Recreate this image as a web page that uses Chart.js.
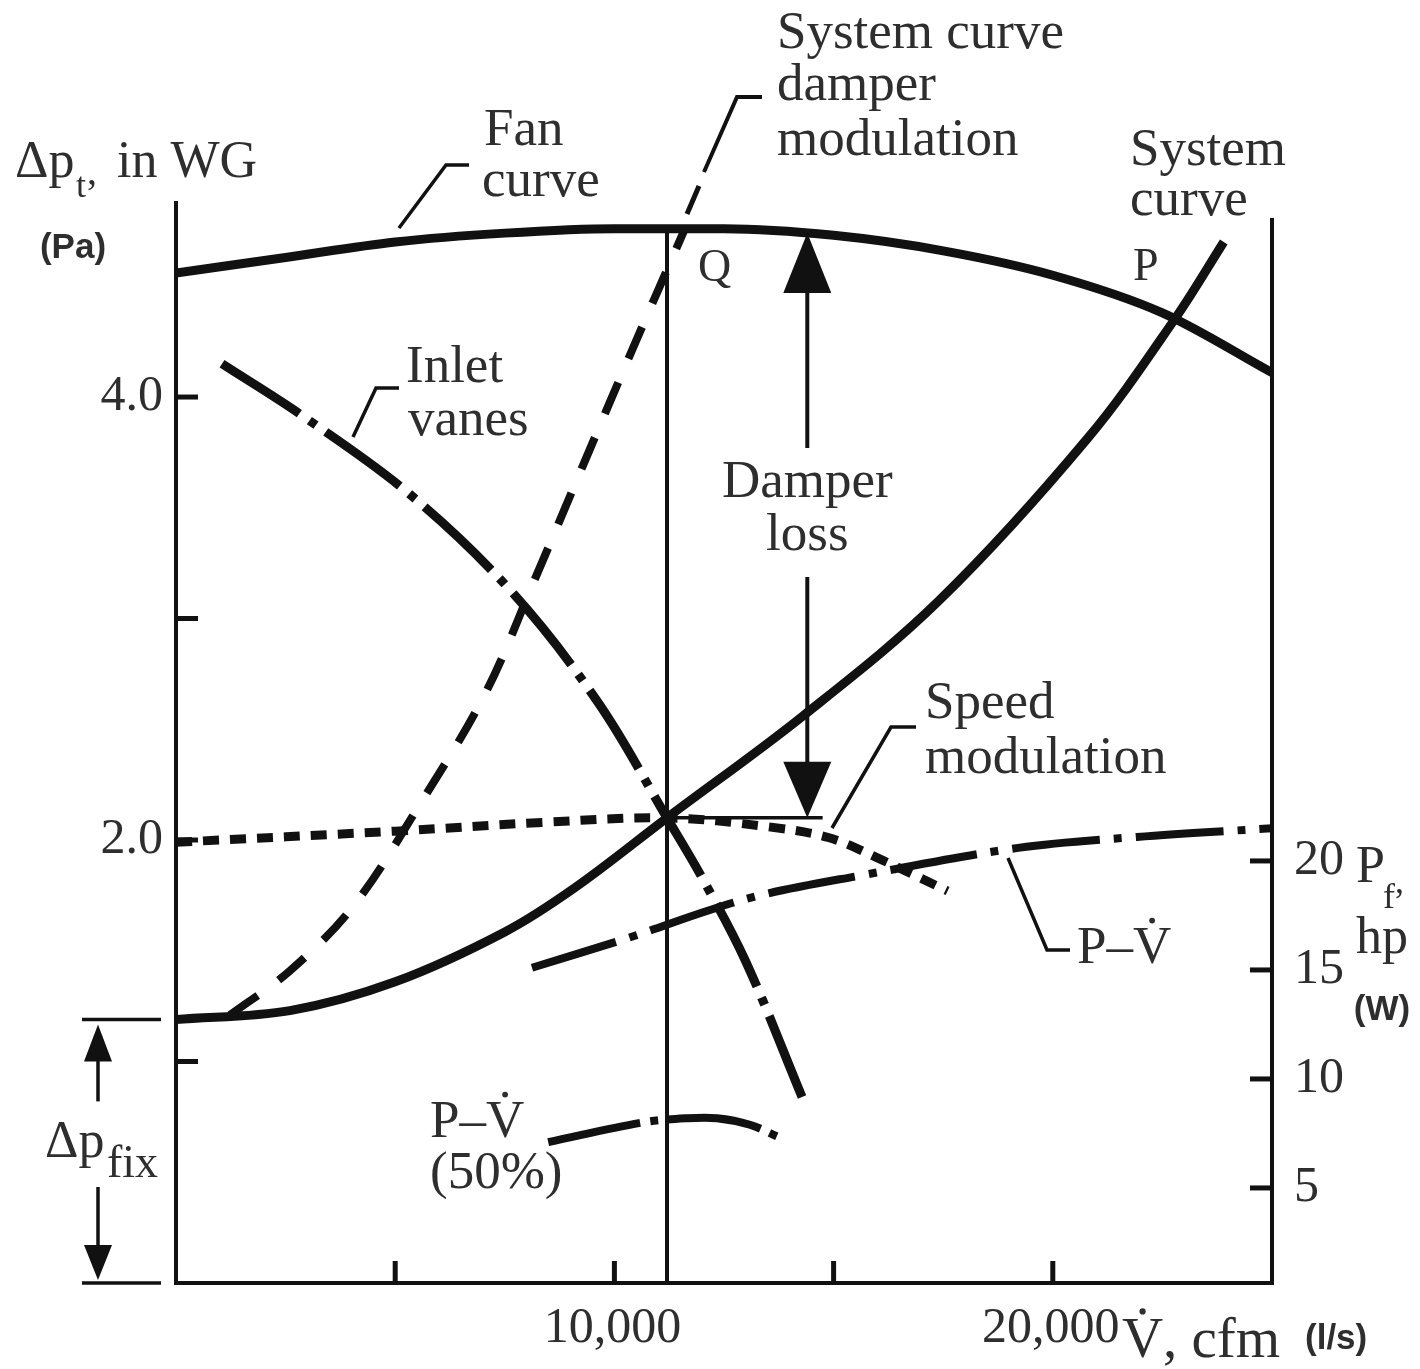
<!DOCTYPE html>
<html>
<head>
<meta charset="utf-8">
<script src="https://cdn.jsdelivr.net/npm/chart.js@4.4.0/dist/chart.umd.min.js"></script>
<style>
  html, body { margin: 0; padding: 0; background: #fff; }
</style>
</head>
<body>
<canvas id="fanChart" width="1420" height="1369"></canvas>
<script>
// axis ticks
const xTicks = [5000, 10000, 15000, 20000];
const xTickLabels = ["", "10,000", "", "20,000"];
const dpTicks = [1, 2, 3, 4];
const dpTickLabels = ["", "2.0", "", "4.0"];
const hpTicks = [5, 10, 15, 20];

// fan curve (cfm, in WG)
const fanCfm = [0, 2500, 5000, 7500, 10000, 12500, 15000, 17500, 20000, 22500, 25000];
const fanDp = [4.56, 4.63, 4.70, 4.74, 4.76, 4.76, 4.73, 4.66, 4.55, 4.38, 4.11];

// system curve
const sysCfm = [0, 2600, 5000, 7500, 9100, 11200, 14300, 17400, 20800, 22800, 23900];
const sysDp = [1.19, 1.23, 1.36, 1.585, 1.785, 2.10, 2.56, 3.08, 3.815, 4.357, 4.70];

// system curve with damper modulation
const damperCfm = [1230, 2600, 4040, 5590, 7050, 8170, 9260, 10400, 11610];
const damperDp = [1.21, 1.41, 1.70, 2.17, 2.66, 3.17, 3.68, 4.21, 4.76];

// inlet vanes
const inletCfm = [1050, 2850, 5340, 7660, 9630, 11200, 12000, 13000, 14280];
const inletDp = [4.15, 3.92, 3.56, 3.12, 2.62, 2.10, 1.83, 1.45, 0.84];

// speed modulation
const speedCfm = [0, 5000, 8400, 11200, 13500, 14900, 16100, 17600];
const speedDp = [1.99, 2.04, 2.08, 2.10, 2.06, 2.01, 1.91, 1.77];

// fan power P-V (hp, right axis)
const powerCfm = [8120, 10360, 12180, 13480, 15530, 19210, 21920, 25000];
const powerHp = [15.1, 16.5, 17.75, 18.5, 19.3, 20.6, 21.1, 21.5];

// fan power at 50%
const power50Cfm = [8490, 10630, 11660, 12340, 13090, 13730];
const power50Hp = [7.1, 8.0, 8.2, 8.2, 7.9, 7.35];

// operating points
const qCfm = [11200, 11200];
const qDp = [0, 4.76];
const lossCfm = [11200, 14750];
const lossDp = [2.10, 2.10];
const lossArrowCfm = 14400;
const lossTopDp = 4.74;
const fixDp = 1.19;

const INK = "#111";
const TEXT = "#2e2e2e";
const SERIF = "'Liberation Serif', 'Times New Roman', serif";
const SANS = "'Liberation Sans', Arial, sans-serif";

function pts(xs, ys) {
  return xs.map((x, i) => ({ x: x, y: ys[i] }));
}

function curve(xs, ys, width, dash, axis, mode) {
  return {
    data: pts(xs, ys),
    yAxisID: axis || "y",
    borderColor: INK,
    borderWidth: width,
    borderDash: dash || [],
    borderCapStyle: "butt",
    pointRadius: 0,
    fill: false,
    cubicInterpolationMode: mode || "default",
    tension: 0.35,
  };
}

function straight(xs, ys, width) {
  return Object.assign(curve(xs, ys, width), { tension: 0 });
}

function line(ctx, p, w) {
  ctx.beginPath();
  ctx.moveTo(p[0][0], p[0][1]);
  for (let i = 1; i < p.length; i++) ctx.lineTo(p[i][0], p[i][1]);
  ctx.lineWidth = w || 3.5;
  ctx.stroke();
}

function head(ctx, x, tip, base, w) {
  ctx.beginPath();
  ctx.moveTo(x, tip);
  ctx.lineTo(x - w / 2, base);
  ctx.lineTo(x + w / 2, base);
  ctx.closePath();
  ctx.fill();
}

function txt(ctx, s, x, y, size, align, family, weight) {
  ctx.font = (weight || "normal") + " " + size + "px " + (family || SERIF);
  ctx.textAlign = align || "left";
  ctx.textBaseline = "alphabetic";
  ctx.fillText(s, x, y);
  return ctx.measureText(s).width;
}

// text ending in V, with a dot over the V
function pvDot(ctx, s, x, y, size) {
  ctx.font = size + "px " + SERIF;
  const pre = ctx.measureText(s.slice(0, -1)).width;
  const vw = ctx.measureText("V").width;
  txt(ctx, s, x, y, size);
  ctx.beginPath();
  ctx.arc(x + pre + vw / 2, y - size * 0.8, size * 0.055, 0, Math.PI * 2);
  ctx.fill();
}

const decorPlugin = {
  id: "decor",
  afterDraw(chart) {
    const ctx = chart.ctx;
    const a = chart.chartArea;
    const sx = chart.scales.x, sy = chart.scales.y, s2 = chart.scales.y2;
    ctx.save();
    ctx.strokeStyle = INK;
    ctx.fillStyle = INK;
    ctx.lineCap = "butt";

    // inner tick marks
    sx.ticks.forEach(t => {
      const px = sx.getPixelForValue(t.value);
      line(ctx, [[px, a.bottom], [px, a.bottom - 22]], 5);
    });
    sy.ticks.forEach(t => {
      const py = sy.getPixelForValue(t.value);
      line(ctx, [[a.left, py], [a.left + 22, py]], 5);
    });
    s2.ticks.forEach(t => {
      const py = s2.getPixelForValue(t.value);
      line(ctx, [[a.right - 22, py], [a.right, py]], 5);
    });
    // right axis line
    line(ctx, [[a.right, a.top + 15], [a.right, a.bottom + 2]], 4);

    // fixed pressure bracket
    const yFix = sy.getPixelForValue(fixDp);
    const y0 = sy.getPixelForValue(0);
    line(ctx, [[82, yFix], [161, yFix]], 3.5);
    line(ctx, [[82, y0], [161, y0]], 3.5);
    head(ctx, 98, yFix + 5, yFix + 42, 28);
    line(ctx, [[98, yFix + 40], [98, yFix + 82]], 3.5);
    line(ctx, [[98, y0 - 96], [98, y0 - 36]], 3.5);
    head(ctx, 98, y0 - 3, y0 - 38, 28);

    // damper loss arrow
    const xl = sx.getPixelForValue(lossArrowCfm);
    const yTop = sy.getPixelForValue(lossTopDp);
    const yBot = sy.getPixelForValue(lossDp[0]);
    head(ctx, xl, yTop, yTop + 60, 48);
    line(ctx, [[xl, yTop + 58], [xl, 448]], 4);
    line(ctx, [[xl, 577], [xl, yBot - 54]], 4);
    head(ctx, xl, yBot, yBot - 56, 48);

    // leaders
    line(ctx, [[399, 228], [446, 165], [469, 165]]);
    line(ctx, [[353, 437], [376, 388], [399, 388]]);
    line(ctx, [[687, 214], [699, 186]], 5);
    line(ctx, [[704, 172], [737, 97], [762, 97]], 4);
    line(ctx, [[832, 828], [891, 727], [916, 727]]);
    line(ctx, [[1008, 858], [1047, 950], [1070, 950]]);

    // labels
    ctx.fillStyle = TEXT;
    const F = 53;
    txt(ctx, "Fan", 484, 145, F);
    txt(ctx, "curve", 482, 196, F);
    txt(ctx, "System curve", 777, 48, F);
    txt(ctx, "damper", 777, 100, F);
    txt(ctx, "modulation", 777, 155, F);
    txt(ctx, "System", 1130, 165, F);
    txt(ctx, "curve", 1130, 215, F);
    txt(ctx, "Q", 698, 281, 46);
    txt(ctx, "P", 1133, 280, 46);
    txt(ctx, "Inlet", 406, 382, F);
    txt(ctx, "vanes", 408, 435, F);
    txt(ctx, "Damper", xl, 497, F, "center");
    txt(ctx, "loss", xl, 550, F, "center");
    txt(ctx, "Speed", 925, 718, F);
    txt(ctx, "modulation", 925, 773, F);
    pvDot(ctx, "P\u2013V", 1077, 963, F);
    pvDot(ctx, "P\u2013V", 430, 1137, F);
    txt(ctx, "(50%)", 430, 1188, F);

    // axis titles
    txt(ctx, "\u0394p", 15, 177, 52);
    txt(ctx, "t", 76, 197, 36);
    txt(ctx, ",", 87, 184, 40);
    txt(ctx, "in WG", 117, 177, 52);
    txt(ctx, "(Pa)", 73, 258, 35, "center", SANS, "bold");
    txt(ctx, "\u0394p", 45, 1157, 52);
    txt(ctx, "fix", 107, 1177, 46);
    txt(ctx, "P", 1356, 882, 52);
    txt(ctx, "f", 1383, 908, 36);
    txt(ctx, ",", 1395, 893, 36);
    txt(ctx, "hp", 1356, 953, 52);
    txt(ctx, "(W)", 1382, 1020, 35, "center", SANS, "bold");
    pvDot(ctx, "V", 1122, 1357, 57);
    txt(ctx, ", cfm", 1163, 1357, 57);
    txt(ctx, "(l/s)", 1305, 1349, 35, "left", SANS, "bold");
    ctx.restore();
  },
};

const tickFont = { family: "Liberation Serif", size: 50 };

new Chart(document.getElementById("fanChart"), {
  type: "line",
  data: {
    datasets: [
      curve(fanCfm, fanDp, 9, [], "y", "monotone"),
      curve(sysCfm, sysDp, 9),
      curve(damperCfm, damperDp, 8, [34, 26]),
      curve(inletCfm, inletDp, 9, [92, 12, 8, 12]),
      curve(speedCfm, speedDp, 9, [16, 11]),
      curve(powerCfm, powerHp, 8, [88, 14, 8, 14], "y2"),
      curve(power50Cfm, power50Hp, 8, [94, 10, 8, 10], "y2"),
      straight(qCfm, qDp, 4),
      straight(lossCfm, lossDp, 3.5),
    ],
  },
  options: {
    responsive: false,
    animation: false,
    devicePixelRatio: 1,
    layout: { padding: { top: 203, left: 0, right: 0, bottom: 0 } },
    plugins: {
      legend: { display: false },
      tooltip: { enabled: false },
    },
    scales: {
      x: {
        type: "linear",
        min: 0,
        max: 25000,
        afterBuildTicks: s => { s.ticks = xTicks.map(v => ({ value: v })); },
        afterFit: s => { s.height = 86; },
        grid: { display: false },
        border: { display: true, color: INK, width: 4 },
        ticks: {
          padding: 8,
          color: TEXT,
          font: tickFont,
          maxRotation: 0,
          labelOffset: -2,
          callback: v => xTickLabels[xTicks.indexOf(v)] || "",
        },
      },
      y: {
        type: "linear",
        position: "left",
        min: 0,
        max: 4.876,
        afterBuildTicks: s => { s.ticks = dpTicks.map(v => ({ value: v })); },
        afterFit: s => { s.width = 176; },
        grid: { display: false },
        border: { display: true, color: INK, width: 4 },
        ticks: {
          padding: 5,
          color: TEXT,
          font: tickFont,
          callback: v => dpTickLabels[dpTicks.indexOf(v)] || "",
        },
      },
      y2: {
        type: "linear",
        position: "right",
        min: 0.64,
        max: 50.18,
        afterBuildTicks: s => { s.ticks = hpTicks.map(v => ({ value: v })); },
        afterFit: s => { s.width = 148; },
        grid: { display: false },
        border: { display: false },
        ticks: {
          padding: 14,
          color: TEXT,
          font: tickFont,
          callback: v => String(v),
        },
      },
    },
  },
  plugins: [decorPlugin],
});
</script>
</body>
</html>
